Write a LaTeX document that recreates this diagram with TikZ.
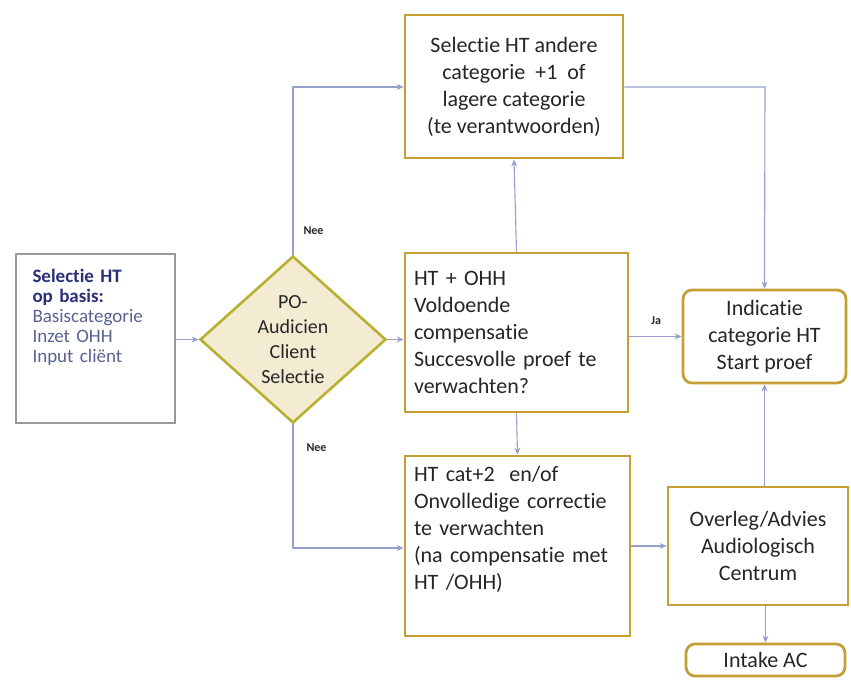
\documentclass[tikz,border=0pt]{standalone}
\usepackage{fontspec}
\setmainfont{Carlito}[Ligatures={NoCommon}]
\usetikzlibrary{shapes.geometric,arrows.meta}
\definecolor{gold}{HTML}{C4A034}
\definecolor{olive}{HTML}{B8B030}
\definecolor{dfill}{HTML}{F4ECD2}
\definecolor{conn}{HTML}{97A0CC}
\definecolor{txt}{HTML}{262626}
\definecolor{navy}{HTML}{2A2F7A}
\definecolor{bluegray}{HTML}{5A6290}
\tikzset{
  box/.style={draw=gold, line width=2.8pt, fill=white, text=txt, inner sep=6pt,
    font=\fontsize{22}{27}\selectfont},
  rbox/.style={box, rounded corners=9pt},
  conn/.style={draw=conn, line width=1.1pt, -{Stealth[length=7pt,width=6pt]}},
  lab/.style={font=\fontsize{12}{14}\selectfont\bfseries, text=txt}
}
\begin{document}
\begin{tikzpicture}[x=1pt,y=-1pt]
\useasboundingbox[fill=white] (0,0) rectangle (851,680);
% left box
\node[draw=gray!80, line width=1.2pt, fill=white, minimum width=159pt, minimum height=169pt,
  text width=126pt, align=left, font=\fontsize{19}{20}\selectfont, text=bluegray]
  (sel) at (95.5,338.5) {{\color{navy}\bfseries Selectie HT}\\{\color{navy}\bfseries op basis:}\\Basiscategorie\\Inzet OHH\\Input cliënt\\[20pt]\strut};
% diamond
\node[diamond, draw=olive, line width=2.6pt, fill=dfill, minimum width=186pt, minimum height=167pt,
  inner sep=0pt, align=center, text=txt, font=\fontsize{20}{25}\selectfont]
  (dia) at (293,339.5) {PO-\\Audicien\\Client\\Selectie};
% top box
\node[box, minimum width=218pt, minimum height=143pt, align=center]
  (top) at (514,86.5) {Selectie HT andere\\categorie\ \ +1\ \ of\\lagere categorie\\(te verantwoorden)};
% middle box
\node[box, minimum width=223pt, minimum height=159pt, text width=205pt, align=left]
  (mid) at (516.5,332.5) {HT + OHH\\Voldoende\\compensatie\\Succesvolle proef te\\verwachten?};
% bottom box
\node[box, minimum width=225pt, minimum height=180pt, text width=207pt, align=left]
  (bot) at (517.5,546) {HT cat+2\ \ en/of\\Onvolledige correctie\\te verwachten\\(na compensatie met\\HT /OHH)\\[2pt]\strut};
% indicatie
\node[rbox, minimum width=163pt, minimum height=93pt, align=center]
  (ind) at (764.5,336.5) {Indicatie\\categorie HT\\Start proef};
% overleg
\node[box, minimum width=180pt, minimum height=118pt, align=center]
  (ovl) at (758,546) {Overleg/Advies\\Audiologisch\\Centrum};
% intake
\node[rbox, minimum width=159pt, minimum height=32pt, inner sep=2pt, align=center]
  (int) at (765.5,660) {Intake AC};
% helper coordinates
\coordinate (c1) at (293,87);
\coordinate (c2) at (293,548);
\coordinate (c3) at (765,87);
% connectors
\draw[conn] (sel.east |- dia.west) -- (dia.west);
\draw[conn] (dia.north) -- (c1) -- (top.west |- c1);
\draw[conn] (dia.south) -- (c2) -- (bot.west |- c2);
\draw[conn] (dia.east) -- (mid.west |- dia.east);
\draw[conn] (mid.north) -- (top.south);
\draw[conn] (mid.south) -- (bot.north);
\draw[conn] (mid.east |- ind.west) -- (ind.west);
\draw[conn] (top.east |- c3) -- (c3) -- (ind.north);
\draw[conn] (bot.east |- ovl.west) -- (ovl.west);
\draw[conn] (ovl.north -| ind.south) -- (ind.south);
\draw[conn] (ovl.south -| int.north) -- (int.north);
% labels
\node[lab, anchor=west] (l1) at (300,231) {Nee};
\node[lab, anchor=west] (l2) at (303,448) {Nee};
\node[lab] (l3) at (656,321) {Ja};
\end{tikzpicture}
\end{document}
